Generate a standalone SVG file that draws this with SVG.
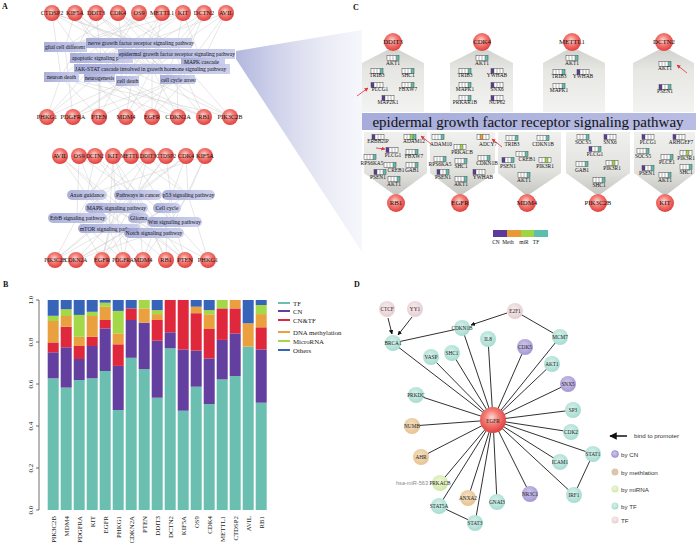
<svg xmlns="http://www.w3.org/2000/svg" xmlns:xlink="http://www.w3.org/1999/xlink" width="697" height="543" viewBox="0 0 697 543">
<defs>
<radialGradient id="rb" cx="0.45" cy="0.4" r="0.62"><stop offset="0" stop-color="#ffd8d2"/><stop offset="0.45" stop-color="#f27c74"/><stop offset="1" stop-color="#e03a3a"/></radialGradient>
<radialGradient id="gTe" cx="0.45" cy="0.4" r="0.6"><stop offset="0" stop-color="#d6f1eb"/><stop offset="1" stop-color="#a6dcd0"/></radialGradient>
<radialGradient id="gPu" cx="0.45" cy="0.4" r="0.6"><stop offset="0" stop-color="#d0c8ec"/><stop offset="1" stop-color="#a597d2"/></radialGradient>
<radialGradient id="gTa" cx="0.45" cy="0.4" r="0.6"><stop offset="0" stop-color="#f6e2c4"/><stop offset="1" stop-color="#e6c291"/></radialGradient>
<radialGradient id="gGr" cx="0.45" cy="0.4" r="0.6"><stop offset="0" stop-color="#eef7da"/><stop offset="1" stop-color="#d0e8a6"/></radialGradient>
<radialGradient id="gPi" cx="0.45" cy="0.4" r="0.6"><stop offset="0" stop-color="#f8ecee"/><stop offset="1" stop-color="#e6cdd0"/></radialGradient>
<linearGradient id="lav" x1="0" y1="0" x2="1" y2="0"><stop offset="0" stop-color="#9ea4d6"/><stop offset="1" stop-color="#c6c9e9"/></linearGradient>
<linearGradient id="fan" x1="0" y1="0" x2="1" y2="0"><stop offset="0" stop-color="#aeb3dc" stop-opacity="0.95"/><stop offset="1" stop-color="#e6e8f4" stop-opacity="0.35"/></linearGradient>
<linearGradient id="banner" x1="0" y1="0" x2="1" y2="0"><stop offset="0" stop-color="#a6acdb"/><stop offset="1" stop-color="#b9bde4"/></linearGradient>
<linearGradient id="houseT" x1="0" y1="0" x2="0" y2="1"><stop offset="0" stop-color="#cfcfcc"/><stop offset="0.35" stop-color="#e6e6e3"/><stop offset="1" stop-color="#f3f3f1"/></linearGradient>
<linearGradient id="houseB" x1="0" y1="0" x2="0" y2="1"><stop offset="0" stop-color="#f0f0ee"/><stop offset="0.6" stop-color="#e2e2df"/><stop offset="1" stop-color="#c4c4c1"/></linearGradient>
<marker id="ah" viewBox="0 0 10 10" refX="9" refY="5" markerWidth="5" markerHeight="5" orient="auto"><path d="M0 0L10 5L0 10z" fill="#111"/></marker>
<marker id="rah" viewBox="0 0 10 10" refX="9" refY="5" markerWidth="5" markerHeight="5" orient="auto"><path d="M0 0L10 5L0 10z" fill="#e0303a"/></marker>
<g id="grid"><path d="M3 0v5M6 0v5M9 0v5" stroke="#444" stroke-width="0.4"/><rect width="12" height="5" fill="none" stroke="#444" stroke-width="0.5"/></g>
<g id="kT"><rect width="12" height="5" fill="#fff"/><rect x="9" width="3" height="5" fill="#5cbfae"/><use xlink:href="#grid"/></g>
<g id="kC"><rect width="12" height="5" fill="#fff"/><rect width="3" height="5" fill="#5b3a9c"/><use xlink:href="#grid"/></g>
<g id="kCT"><rect width="12" height="5" fill="#fff"/><rect width="3" height="5" fill="#5b3a9c"/><rect x="9" width="3" height="5" fill="#5cbfae"/><use xlink:href="#grid"/></g>
<g id="kRT"><rect width="12" height="5" fill="#fff"/><rect x="6" width="3" height="5" fill="#9fd444"/><rect x="9" width="3" height="5" fill="#5cbfae"/><use xlink:href="#grid"/></g>
<g id="kR"><rect width="12" height="5" fill="#fff"/><rect x="6" width="3" height="5" fill="#9fd444"/><use xlink:href="#grid"/></g>
<g id="kM"><rect width="12" height="5" fill="#fff"/><rect x="3" width="3" height="5" fill="#e89a35"/><use xlink:href="#grid"/></g>
</defs>
<style>
.pl{font-family:"Liberation Serif","Times New Roman",serif;font-weight:bold;font-size:8px;fill:#111}
.gn circle{fill:url(#rb)}
.gt{font-family:"Liberation Serif","Times New Roman",serif;font-size:6.3px;fill:#111;text-anchor:middle}
.gs{font-size:5.5px}
.gc{font-size:6.8px}
.ea{stroke:#c9c9c9;stroke-width:0.45;fill:none}
.pb{fill:url(#lav);opacity:0.88}
.pt{font-family:"Liberation Serif","Times New Roman",serif;font-size:5.6px;fill:#111}
.pr{fill:url(#lav);opacity:0.85}
.ptc{font-family:"Liberation Serif","Times New Roman",serif;font-size:5.7px;fill:#111;text-anchor:middle}
.tf{fill:#6bbfb1}.cn{fill:#633f9f}.ct{fill:#e0283c}.me{fill:#eba040}.mi{fill:#a3d848}.ot{fill:#3564b8}
.ax{font-family:"Liberation Serif","Times New Roman",serif;font-size:7px;fill:#222}
.bl{font-family:"Liberation Serif","Times New Roman",serif;font-size:6.8px;fill:#222;text-anchor:end}
.lg{font-family:"Liberation Serif","Times New Roman",serif;font-size:6.8px;fill:#222}
.cl{font-family:"Liberation Serif","Times New Roman",serif;font-size:5.4px;fill:#111;text-anchor:middle}
.ra{stroke:#e0303a;stroke-width:0.8;marker-end:url(#rah)}
.de{stroke:#1a1a1a;stroke-width:0.9;fill:none}
.dn{font-family:"Liberation Serif","Times New Roman",serif;font-size:5.3px;fill:#222;text-anchor:middle}
.dl{font-family:"Liberation Sans",Arial,sans-serif;font-size:6.2px;fill:#333}
</style>
<rect width="697" height="543" fill="#fff"/>

<text class="pl" x="2" y="9">A</text>
<text class="pl" x="3" y="287">B</text>
<text class="pl" x="353" y="10">C</text>
<text class="pl" x="354" y="287">D</text>

<polygon points="236,51 362,30 362,252 236,59" fill="url(#fan)"/>

<g id="connectors-A1">
<path class="ea" d="M52 13L138 43M52 13L175 54M52 13L152 69M52 13L99 78M52 13L61 77
M75 13L65 47M75 13L101 57M75 13L127 81M75 13L177 80M75 13L152 69
M96 13L138 43M96 13L101 57M96 13L152 69M96 13L61 77M96 13L177 80
M118 13L175 54M118 13L202 62M118 13L127 81M118 13L177 80M118 13L65 47
M139 13L101 57M139 13L61 77M139 13L99 78M139 13L175 54
M162 13L138 43M162 13L152 69M162 13L127 81M162 13L65 47
M183 13L175 54M183 13L65 47M183 13L101 57M183 13L202 62M183 13L99 78
M204 13L175 54M204 13L152 69M204 13L99 78M204 13L177 80
M226 13L202 62M226 13L127 81M226 13L177 80M226 13L101 57
M47 117L61 77M47 117L101 57M47 117L152 69M47 117L138 43
M73 117L175 54M73 117L65 47M73 117L127 81M73 117L177 80
M99 117L101 57M99 117L61 77M99 117L99 78M99 117L177 80M99 117L138 43
M126 117L152 69M126 117L177 80M126 117L138 43M126 117L65 47
M152 117L175 54M152 117L202 62M152 117L152 69M152 117L65 47M152 117L101 57
M178 117L177 80M178 117L127 81M178 117L61 77M178 117L138 43
M204 117L138 43M204 117L175 54M204 117L99 78M204 117L127 81
M230 117L175 54M230 117L152 69M230 117L101 57M230 117L61 77"/>
</g>

<g id="pathways-A1">
<rect class="pb" x="44" y="42" width="43" height="10"/><text class="pt" x="45" y="49.3">glial cell different</text>
<rect class="pb" x="86" y="38" width="106" height="10"/><text class="pt" x="88" y="45.3">nerve growth factor receptor signaling pathway</text>
<rect class="pb" x="70" y="53" width="63" height="10"/><text class="pt" x="72" y="60.3">apoptotic signaling p</text>
<rect class="pb" x="118" y="49" width="117" height="10"/><text class="pt" x="119" y="56.3">epidermal growth factor receptor signaling pathway</text>
<rect class="pb" x="181" y="58" width="44" height="8" opacity="0.6"/><text class="pt" x="184" y="64">MAPK cascade</text>
<rect class="pb" x="74" y="64" width="156" height="10"/><text class="pt" x="75" y="71.3">JAK-STAT cascade involved in growth hormone signaling pathway</text>
<rect class="pb" x="44" y="72" width="35" height="10"/><text class="pt" x="47" y="79.3">neuron death</text>
<rect class="pb" x="84" y="74" width="31" height="8"/><text class="pt" x="85" y="80">neurogenesis</text>
<rect class="pb" x="116" y="76" width="23" height="10"/><text class="pt" x="117" y="82.5">cell death</text>
<rect class="pb" x="160" y="75" width="35" height="9"/><text class="pt" x="161" y="81.5">cell cycle arrest</text>
</g>

<g id="a1-CTDSP2" class="gn"><circle cx="52" cy="13" r="8"/><text class="gt" x="52" y="15.2">CTDSP2</text></g>
<g id="a1-KIF5A" class="gn"><circle cx="75" cy="13" r="8"/><text class="gt" x="75" y="15.2">KIF5A</text></g>
<g id="a1-DDIT3" class="gn"><circle cx="96" cy="13" r="8"/><text class="gt" x="96" y="15.2">DDIT3</text></g>
<g id="a1-CDK4" class="gn"><circle cx="118" cy="13" r="8"/><text class="gt" x="118" y="15.2">CDK4</text></g>
<g id="a1-OS9" class="gn"><circle cx="139" cy="13" r="8"/><text class="gt" x="139" y="15.2">OS9</text></g>
<g id="a1-METTL1" class="gn"><circle cx="162" cy="13" r="8"/><text class="gt" x="162" y="15.2">METTL1</text></g>
<g id="a1-KIT" class="gn"><circle cx="183" cy="13" r="8"/><text class="gt" x="183" y="15.2">KIT</text></g>
<g id="a1-DCTN2" class="gn"><circle cx="204" cy="13" r="8"/><text class="gt" x="204" y="15.2">DCTN2</text></g>
<g id="a1-AVIL" class="gn"><circle cx="226" cy="13" r="8"/><text class="gt" x="226" y="15.2">AVIL</text></g>
<g id="a1-PHKG1" class="gn"><circle cx="47" cy="117" r="8"/><text class="gt" x="47" y="119.2">PHKG1</text></g>
<g id="a1-PDGFRA" class="gn"><circle cx="73" cy="117" r="8"/><text class="gt" x="73" y="119.2">PDGFRA</text></g>
<g id="a1-PTEN" class="gn"><circle cx="99" cy="117" r="8"/><text class="gt" x="99" y="119.2">PTEN</text></g>
<g id="a1-MDM4" class="gn"><circle cx="126" cy="117" r="8"/><text class="gt" x="126" y="119.2">MDM4</text></g>
<g id="a1-EGFR" class="gn"><circle cx="152" cy="117" r="8"/><text class="gt" x="152" y="119.2">EGFR</text></g>
<g id="a1-CDKN2A" class="gn"><circle cx="178" cy="117" r="8"/><text class="gt" x="178" y="119.2">CDKN2A</text></g>
<g id="a1-RB1" class="gn"><circle cx="204" cy="117" r="8"/><text class="gt" x="204" y="119.2">RB1</text></g>
<g id="a1-PIK3C2B" class="gn"><circle cx="230" cy="117" r="8"/><text class="gt" x="230" y="119.2">PIK3C2B</text></g>

<g id="connectors-A2">
<path class="ea" d="M60 156L87 195M60 156L116 208M60 156L153 233
M79 156L137 195M79 156L109 229M79 156L77 218
M95 156L87 195M95 156L153 233M95 156L174 222
M113 156L137 195M113 156L116 208M113 156L77 218M113 156L138 218M113 156L109 229
M131 156L174 222M131 156L87 195M131 156L188 195
M148 156L188 195M148 156L116 208M148 156L137 195M148 156L77 218
M166 156L137 195M166 156L174 222M166 156L109 229
M186 156L188 195M186 156L167 208M186 156L137 195M186 156L116 208
M205 156L188 195M205 156L174 222M205 156L87 195
M55 260L77 218M55 260L116 208M55 260L109 229M55 260L137 195
M76 260L188 195M76 260L167 208M76 260L137 195M76 260L153 233
M102 260L77 218M102 260L116 208M102 260L138 218M102 260L109 229M102 260L137 195
M123 260L137 195M123 260L77 218M123 260L109 229M123 260L116 208
M143 260L188 195M143 260L137 195M143 260L153 233M143 260L87 195
M166 260L167 208M166 260L137 195M166 260L153 233M166 260L87 195
M185 260L137 195M185 260L174 222M185 260L153 233M185 260L116 208
M208 260L188 195M208 260L174 222M208 260L87 195"/>
</g>

<g id="pathways-A2">
<rect class="pr" x="67" y="190" width="40" height="10" rx="5"/><text class="ptc" x="87" y="197">Axon guidance</text>
<rect class="pr" x="114" y="190" width="48" height="10" rx="5"/><text class="ptc" x="138" y="197">Pathways in cancer</text>
<rect class="pr" x="162" y="190" width="53" height="10" rx="5"/><text class="ptc" x="188.5" y="197">p53 signaling pathway</text>
<rect class="pr" x="85" y="203" width="63" height="10" rx="5"/><text class="ptc" x="116.5" y="210">MAPK signaling pathway</text>
<rect class="pr" x="153" y="203" width="28" height="10" rx="5"/><text class="ptc" x="167" y="210">Cell cycle</text>
<rect class="pr" x="48" y="213" width="59" height="10" rx="5"/><text class="ptc" x="77.5" y="220">ErbB signaling pathway</text>
<rect class="pr" x="128" y="213" width="21" height="10" rx="5"/><text class="ptc" x="138.5" y="220">Glioma</text>
<rect class="pr" x="147" y="217" width="55" height="10" rx="5"/><text class="ptc" x="174.5" y="224">Wnt signaling pathway</text>
<rect class="pr" x="78" y="224" width="62" height="9" rx="4.5"/><text class="ptc" x="109" y="230.5">mTOR signaling pathway</text>
<rect class="pr" x="124" y="228" width="60" height="10" rx="5"/><text class="ptc" x="154" y="235">Notch signaling pathway</text>
</g>

<g id="a2-AVIL" class="gn"><circle cx="60" cy="156" r="8"/><text class="gt" x="60" y="158.2">AVIL</text></g>
<g id="a2-OS9" class="gn"><circle cx="79" cy="156" r="8"/><text class="gt" x="79" y="158.2">OS9</text></g>
<g id="a2-DCTN2" class="gn"><circle cx="95" cy="156" r="8"/><text class="gt gs" x="95" y="158">DCTN2</text></g>
<g id="a2-KIT" class="gn"><circle cx="113" cy="156" r="8"/><text class="gt" x="113" y="158.2">KIT</text></g>
<g id="a2-METTL1" class="gn"><circle cx="131" cy="156" r="8"/><text class="gt gs" x="131" y="158">METTL1</text></g>
<g id="a2-DDIT3" class="gn"><circle cx="148" cy="156" r="8"/><text class="gt gs" x="148" y="158">DDIT3</text></g>
<g id="a2-CTDSP2" class="gn"><circle cx="166" cy="156" r="8"/><text class="gt gs" x="166" y="158">CTDSP2</text></g>
<g id="a2-CDK4" class="gn"><circle cx="186" cy="156" r="8"/><text class="gt" x="186" y="158.2">CDK4</text></g>
<g id="a2-KIF5A" class="gn"><circle cx="205" cy="156" r="8"/><text class="gt" x="205" y="158.2">KIF5A</text></g>
<g id="a2-PIK3C2B" class="gn"><circle cx="55" cy="260" r="8"/><text class="gt gs" x="55" y="262">PIK3C2B</text></g>
<g id="a2-CDKN2A" class="gn"><circle cx="76" cy="260" r="8"/><text class="gt gs" x="76" y="262">CDKN2A</text></g>
<g id="a2-EGFR" class="gn"><circle cx="102" cy="260" r="8"/><text class="gt" x="102" y="262.2">EGFR</text></g>
<g id="a2-PDGFRA" class="gn"><circle cx="123" cy="260" r="8"/><text class="gt gs" x="123" y="262">PDGFRA</text></g>
<g id="a2-MDM4" class="gn"><circle cx="143" cy="260" r="8"/><text class="gt" x="143" y="262.2">MDM4</text></g>
<g id="a2-RB1" class="gn"><circle cx="166" cy="260" r="8"/><text class="gt" x="166" y="262.2">RB1</text></g>
<g id="a2-PTEN" class="gn"><circle cx="185" cy="260" r="8"/><text class="gt" x="185" y="262.2">PTEN</text></g>
<g id="a2-PHKG1" class="gn"><circle cx="208" cy="260" r="8"/><text class="gt" x="208" y="262.2">PHKG1</text></g>

<g id="panelB">
<path d="M39 300V510M36 300H39M36 342H39M36 384H39M36 426H39M36 468H39M36 510H39" stroke="#333" stroke-width="0.7" fill="none"/>
<text class="ax" transform="translate(33,300) rotate(-90)" text-anchor="middle">1.0</text>
<text class="ax" transform="translate(33,342) rotate(-90)" text-anchor="middle">0.8</text>
<text class="ax" transform="translate(33,384) rotate(-90)" text-anchor="middle">0.6</text>
<text class="ax" transform="translate(33,426) rotate(-90)" text-anchor="middle">0.4</text>
<text class="ax" transform="translate(33,468) rotate(-90)" text-anchor="middle">0.2</text>
<text class="ax" transform="translate(33,510) rotate(-90)" text-anchor="middle">0.0</text>

<g id="bar-PIK3C2B"><rect class="tf" x="47.7" y="378.3" width="11" height="131.7"/><rect class="cn" x="47.7" y="352.3" width="11" height="26"/><rect class="ct" x="47.7" y="342.4" width="11" height="9.9"/><rect class="me" x="47.7" y="321" width="11" height="21.4"/><rect class="mi" x="47.7" y="315.8" width="11" height="5.2"/><rect class="ot" x="47.7" y="300" width="11" height="15.8"/></g>
<g id="bar-MDM4"><rect class="tf" x="60.7" y="387.6" width="11" height="122.4"/><rect class="cn" x="60.7" y="347.3" width="11" height="40.3"/><rect class="ct" x="60.7" y="326.7" width="11" height="20.6"/><rect class="me" x="60.7" y="316" width="11" height="10.7"/><rect class="mi" x="60.7" y="309.2" width="11" height="6.8"/><rect class="ot" x="60.7" y="300" width="11" height="9.2"/></g>
<g id="bar-PDGFRA"><rect class="tf" x="73.7" y="380" width="11" height="130"/><rect class="cn" x="73.7" y="359" width="11" height="21"/><rect class="ct" x="73.7" y="346" width="11" height="13"/><rect class="me" x="73.7" y="336.8" width="11" height="9.2"/><rect class="mi" x="73.7" y="314.9" width="11" height="21.9"/><rect class="ot" x="73.7" y="300" width="11" height="14.9"/></g>
<g id="bar-KIT"><rect class="tf" x="86.7" y="378.3" width="11" height="131.7"/><rect class="cn" x="86.7" y="346" width="11" height="32.3"/><rect class="ct" x="86.7" y="336.8" width="11" height="9.2"/><rect class="me" x="86.7" y="316" width="11" height="20.8"/><rect class="mi" x="86.7" y="311.8" width="11" height="4.2"/><rect class="ot" x="86.7" y="300" width="11" height="11.8"/></g>
<g id="bar-EGFR"><rect class="tf" x="99.7" y="371" width="11" height="139"/><rect class="cn" x="99.7" y="328.4" width="11" height="42.6"/><rect class="ct" x="99.7" y="320" width="11" height="8.4"/><rect class="me" x="99.7" y="306.7" width="11" height="13.3"/><rect class="mi" x="99.7" y="302.7" width="11" height="4"/><rect class="ot" x="99.7" y="300" width="11" height="2.7"/></g>
<g id="bar-PHKG1"><rect class="tf" x="112.7" y="410" width="11" height="100"/><rect class="cn" x="112.7" y="365.9" width="11" height="44.1"/><rect class="ct" x="112.7" y="344.3" width="11" height="21.6"/><rect class="me" x="112.7" y="333.4" width="11" height="10.9"/><rect class="mi" x="112.7" y="310.9" width="11" height="22.5"/><rect class="ot" x="112.7" y="300" width="11" height="10.9"/></g>
<g id="bar-CDKN2A"><rect class="tf" x="125.7" y="357.8" width="11" height="152.2"/><rect class="cn" x="125.7" y="320" width="11" height="37.8"/><rect class="ct" x="125.7" y="308.4" width="11" height="11.6"/><rect class="ot" x="125.7" y="300" width="11" height="8.4"/></g>
<g id="bar-PTEN"><rect class="tf" x="138.7" y="369.1" width="11" height="140.9"/><rect class="cn" x="138.7" y="322.7" width="11" height="46.4"/><rect class="me" x="138.7" y="308.4" width="11" height="14.3"/><rect class="mi" x="138.7" y="300" width="11" height="8.4"/></g>
<g id="bar-DDIT3"><rect class="tf" x="151.7" y="397.7" width="11" height="112.3"/><rect class="cn" x="151.7" y="340.7" width="11" height="57"/><rect class="ct" x="151.7" y="320" width="11" height="20.7"/><rect class="me" x="151.7" y="314.1" width="11" height="5.9"/><rect class="mi" x="151.7" y="310.1" width="11" height="4"/><rect class="ot" x="151.7" y="300" width="11" height="10.1"/></g>
<g id="bar-DCTN2"><rect class="tf" x="164.7" y="348.3" width="11" height="161.7"/><rect class="cn" x="164.7" y="332.3" width="11" height="16"/><rect class="ct" x="164.7" y="300" width="11" height="32.3"/></g>
<g id="bar-KIF5A"><rect class="tf" x="177.7" y="410.7" width="11" height="99.3"/><rect class="cn" x="177.7" y="349.4" width="11" height="61.3"/><rect class="ct" x="177.7" y="300" width="11" height="49.4"/></g>
<g id="bar-OS9"><rect class="tf" x="190.7" y="386.7" width="11" height="123.3"/><rect class="cn" x="190.7" y="350.6" width="11" height="36.1"/><rect class="ct" x="190.7" y="313.2" width="11" height="37.4"/><rect class="me" x="190.7" y="306.7" width="11" height="6.5"/><rect class="ot" x="190.7" y="300" width="11" height="6.7"/></g>
<g id="bar-CDK4"><rect class="tf" x="203.7" y="404" width="11" height="106"/><rect class="cn" x="203.7" y="358.4" width="11" height="45.6"/><rect class="ct" x="203.7" y="329" width="11" height="29.4"/><rect class="me" x="203.7" y="314.3" width="11" height="14.7"/><rect class="mi" x="203.7" y="310.1" width="11" height="4.2"/><rect class="ot" x="203.7" y="300" width="11" height="10.1"/></g>
<g id="bar-METTL1"><rect class="tf" x="216.7" y="379.4" width="11" height="130.6"/><rect class="cn" x="216.7" y="339.9" width="11" height="39.5"/><rect class="ct" x="216.7" y="308.4" width="11" height="31.5"/><rect class="mi" x="216.7" y="300" width="11" height="8.4"/></g>
<g id="bar-CTDSP2"><rect class="tf" x="229.7" y="376" width="11" height="134"/><rect class="cn" x="229.7" y="333.4" width="11" height="42.6"/><rect class="ct" x="229.7" y="308.4" width="11" height="25"/><rect class="me" x="229.7" y="300" width="11" height="8.4"/></g>
<g id="bar-AVIL"><rect class="tf" x="242.7" y="346.6" width="11" height="163.4"/><rect class="me" x="242.7" y="323.3" width="11" height="23.3"/><rect class="ot" x="242.7" y="300" width="11" height="23.3"/></g>
<g id="bar-RB1"><rect class="tf" x="255.7" y="402.7" width="11" height="107.3"/><rect class="cn" x="255.7" y="349.4" width="11" height="53.3"/><rect class="ct" x="255.7" y="327.3" width="11" height="22.1"/><rect class="me" x="255.7" y="314.1" width="11" height="13.2"/><rect class="mi" x="255.7" y="305" width="11" height="9.1"/><rect class="ot" x="255.7" y="300" width="11" height="5"/></g>

<text class="bl" transform="translate(55.7,516) rotate(-90)">PIK3C2B</text>
<text class="bl" transform="translate(68.7,516) rotate(-90)">MDM4</text>
<text class="bl" transform="translate(81.7,516) rotate(-90)">PDGFRA</text>
<text class="bl" transform="translate(94.7,516) rotate(-90)">KIT</text>
<text class="bl" transform="translate(107.7,516) rotate(-90)">EGFR</text>
<text class="bl" transform="translate(120.7,516) rotate(-90)">PHKG1</text>
<text class="bl" transform="translate(133.7,516) rotate(-90)">CDKN2A</text>
<text class="bl" transform="translate(146.7,516) rotate(-90)">PTEN</text>
<text class="bl" transform="translate(159.7,516) rotate(-90)">DDIT3</text>
<text class="bl" transform="translate(172.7,516) rotate(-90)">DCTN2</text>
<text class="bl" transform="translate(185.7,516) rotate(-90)">KIF5A</text>
<text class="bl" transform="translate(198.7,516) rotate(-90)">OS9</text>
<text class="bl" transform="translate(211.7,516) rotate(-90)">CDK4</text>
<text class="bl" transform="translate(224.7,516) rotate(-90)">METTL1</text>
<text class="bl" transform="translate(237.7,516) rotate(-90)">CTDSP2</text>
<text class="bl" transform="translate(250.7,516) rotate(-90)">AVIL</text>
<text class="bl" transform="translate(263.7,516) rotate(-90)">RB1</text>

<g id="legendB">
<rect class="tf" x="278" y="302" width="12" height="2"/><text class="lg" x="293" y="305.5">TF</text>
<rect class="cn" x="278" y="310" width="12" height="2"/><text class="lg" x="293" y="313.5">CN</text>
<rect class="ct" x="278" y="319" width="12" height="2"/><text class="lg" x="293" y="322.5">CN&amp;TF</text>
<rect class="me" x="278" y="331" width="12" height="2"/><text class="lg" x="293" y="334.5">DNA methylation</text>
<rect class="mi" x="278" y="340" width="12" height="2"/><text class="lg" x="293" y="343.5">MicroRNA</text>
<rect class="ot" x="278" y="349" width="12" height="2"/><text class="lg" x="293" y="352.5">Others</text>
</g>
</g>

<g id="panelC">
<polygon id="houseDDIT3" points="362,112 362,63 393,47 424,63 424,112" fill="url(#houseT)"/>
<polygon id="houseCDK4" points="450,112 450,63 482,47 513,63 513,112" fill="url(#houseT)"/>
<polygon id="houseMETTL1" points="543,112 543,63 572,47 605,63 605,112" fill="url(#houseT)"/>
<polygon id="houseDCTN2" points="633,112 633,63 664,47 694,63 694,112" fill="url(#houseT)"/>
<polygon id="houseRB1" points="364,132 427,132 427,173 396,196 364,173" fill="url(#houseB)"/>
<polygon id="houseEGFR" points="430,132 495,132 495,173 460,196 430,173" fill="url(#houseB)"/>
<polygon id="houseMDM4" points="498,132 561,132 561,173 527,196 498,173" fill="url(#houseB)"/>
<polygon id="housePIK3C2B" points="566,132 630,132 630,173 598,196 566,173" fill="url(#houseB)"/>
<polygon id="houseKIT" points="634,132 695,132 695,173 665,196 634,173" fill="url(#houseB)"/>

<g id="c-banner"><rect x="362" y="113" width="334" height="17" fill="url(#banner)"/><text x="528" y="126.5" text-anchor="middle" font-family="'Liberation Serif','Times New Roman',serif" font-size="15" fill="#111">epidermal growth factor receptor signaling pathway</text></g>

<g id="c-DDIT3" class="gn"><circle cx="393" cy="42" r="9"/><text class="gt gc" x="393" y="44.4">DDIT3</text></g>
<g id="c-CDK4" class="gn"><circle cx="482" cy="42" r="9"/><text class="gt gc" x="482" y="44.4">CDK4</text></g>
<g id="c-METTL1" class="gn"><circle cx="572" cy="42" r="9"/><text class="gt gc" x="572" y="44.4">METTL1</text></g>
<g id="c-DCTN2" class="gn"><circle cx="664" cy="42" r="9"/><text class="gt gc" x="664" y="44.4">DCTN2</text></g>
<g id="c-RB1" class="gn"><circle cx="396" cy="203" r="9"/><text class="gt gc" x="396" y="205.4">RB1</text></g>
<g id="c-EGFR" class="gn"><circle cx="460" cy="203" r="9"/><text class="gt gc" x="460" y="205.4">EGFR</text></g>
<g id="c-MDM4" class="gn"><circle cx="527" cy="203" r="9"/><text class="gt gc" x="527" y="205.4">MDM4</text></g>
<g id="c-PIK3C2B" class="gn"><circle cx="598" cy="203" r="9"/><text class="gt gc" x="598" y="205.4">PIK3C2B</text></g>
<g id="c-KIT" class="gn"><circle cx="665" cy="203" r="9"/><text class="gt gc" x="665" y="205.4">KIT</text></g>

<g id="c-items">
<use xlink:href="#kT" x="387" y="55.5"/><text class="cl" x="393" y="64.5">AKT1</text>
<use xlink:href="#kT" x="371" y="68.5"/><text class="cl" x="377" y="77">TRIB3</text>
<use xlink:href="#kT" x="402" y="68.5"/><text class="cl" x="408" y="77">SHC1</text>
<use xlink:href="#kC" x="371" y="82.5"/><text class="cl" x="380" y="91">PLCG1</text>
<use xlink:href="#kT" x="402" y="82.5"/><text class="cl" x="408" y="91">FBXW7</text>
<use xlink:href="#kC" x="382" y="95.5"/><text class="cl" x="388" y="104">MAP2K1</text>
<use xlink:href="#kT" x="476" y="55.5"/><text class="cl" x="482" y="64.5">AKT1</text>
<use xlink:href="#kT" x="459" y="68.5"/><text class="cl" x="465" y="77">TRIB3</text>
<use xlink:href="#kC" x="491" y="68.5"/><text class="cl" x="497" y="77">YWHAB</text>
<use xlink:href="#kT" x="459" y="82.5"/><text class="cl" x="465" y="91">MAPK1</text>
<use xlink:href="#kC" x="491" y="82.5"/><text class="cl" x="497" y="91">SNX6</text>
<use xlink:href="#kT" x="459" y="95.5"/><text class="cl" x="465" y="104">PRKAR1B</text>
<use xlink:href="#kC" x="491" y="95.5"/><text class="cl" x="497" y="104">NUP62</text>
<use xlink:href="#kT" x="566" y="55.5"/><text class="cl" x="572" y="64.5">AKT1</text>
<use xlink:href="#kT" x="553" y="69.5"/><text class="cl" x="559" y="78">TRIB3</text>
<use xlink:href="#kC" x="577" y="69.5"/><text class="cl" x="583" y="78">YWHAB</text>
<use xlink:href="#kT" x="553" y="83.5"/><text class="cl" x="559" y="92">MAPK1</text>
<use xlink:href="#kT" x="659" y="61.5"/><text class="cl" x="665" y="70">AKT1</text>
<use xlink:href="#kCT" x="659" y="84.5"/><text class="cl" x="665" y="93">PSEN1</text>
<use xlink:href="#kC" x="372" y="134.5"/><text class="cl" x="378" y="143">ERBB2IP</text>
<use xlink:href="#kRT" x="404" y="134.5"/><text class="cl" x="414" y="143">ADAM12</text>
<use xlink:href="#kC" x="386" y="147.5"/><text class="cl" x="393" y="157">PLCG1</text>
<use xlink:href="#kT" x="406" y="149.5"/><text class="cl" x="414" y="158">FBXW7</text>
<use xlink:href="#kT" x="364" y="154.5"/><text class="cl" x="372" y="164.5">RPS6KA5</text>
<use xlink:href="#kT" x="384" y="162.5"/><text class="cl" x="396" y="172">CREB1</text>
<use xlink:href="#kCT" x="374" y="169.5"/><text class="cl" x="378" y="179">PSEN1</text>
<use xlink:href="#kT" x="406" y="162.5"/><text class="cl" x="412" y="172">GAB1</text>
<use xlink:href="#kT" x="388" y="176.5"/><text class="cl" x="394" y="186">AKT1</text>
<use xlink:href="#kT" x="432" y="134.5"/><text class="cl" x="441" y="146">ADAM10</text>
<use xlink:href="#kM" x="477" y="134.5"/><text class="cl" x="488" y="146">ADCY7</text>
<use xlink:href="#kR" x="454" y="144.5"/><text class="cl" x="462" y="154">PRKACB</text>
<use xlink:href="#kT" x="434" y="156.5"/><text class="cl" x="440" y="166">RPS6KA5</text>
<use xlink:href="#kT" x="455" y="158.5"/><text class="cl" x="461" y="168">SHC1</text>
<use xlink:href="#kT" x="478" y="155.5"/><text class="cl" x="487" y="165">CDKN1B</text>
<use xlink:href="#kCT" x="437" y="169.5"/><text class="cl" x="443" y="179">PSEN1</text>
<use xlink:href="#kC" x="473" y="169.5"/><text class="cl" x="483" y="179">YWHAB</text>
<use xlink:href="#kT" x="455" y="176.5"/><text class="cl" x="461" y="186">AKT1</text>
<use xlink:href="#kT" x="506" y="135.5"/><text class="cl" x="512" y="146">TRIB3</text>
<use xlink:href="#kT" x="537" y="135.5"/><text class="cl" x="543" y="146">CDKN1B</text>
<use xlink:href="#kT" x="516" y="151.5"/><text class="cl" x="527" y="161">CREB1</text>
<use xlink:href="#kCT" x="502" y="157.5"/><text class="cl" x="508" y="168">PSEN1</text>
<use xlink:href="#kR" x="539" y="157.5"/><text class="cl" x="545" y="168">PIK3R1</text>
<use xlink:href="#kT" x="518" y="172.5"/><text class="cl" x="524" y="182">AKT1</text>
<use xlink:href="#kT" x="577" y="134.5"/><text class="cl" x="583" y="144">SOCS5</text>
<use xlink:href="#kC" x="604" y="134.5"/><text class="cl" x="610" y="144">SNX6</text>
<use xlink:href="#kCT" x="589" y="146.5"/><text class="cl" x="595" y="156">PLCG1</text>
<use xlink:href="#kT" x="576" y="161.5"/><text class="cl" x="582" y="172">GAB1</text>
<use xlink:href="#kR" x="606" y="160.5"/><text class="cl" x="612" y="170">PIK3R1</text>
<use xlink:href="#kT" x="593" y="177.5"/><text class="cl" x="599" y="187">SHC1</text>
<use xlink:href="#kC" x="642" y="134.5"/><text class="cl" x="648" y="144">PLCG1</text>
<use xlink:href="#kC" x="673" y="134.5"/><text class="cl" x="681" y="144">ARHGEF7</text>
<use xlink:href="#kT" x="637" y="148.5"/><text class="cl" x="643" y="158">SOCS5</text>
<use xlink:href="#kT" x="661" y="154.5"/><text class="cl" x="667" y="164">PLCE1</text>
<use xlink:href="#kR" x="680" y="150.5"/><text class="cl" x="686" y="160">PIK3R1</text>
<use xlink:href="#kCT" x="642" y="165.5"/><text class="cl" x="647" y="175">PSEN1</text>
<use xlink:href="#kT" x="680" y="164.5"/><text class="cl" x="686" y="174">SHC1</text>
<use xlink:href="#kT" x="659" y="172.5"/><text class="cl" x="665" y="182">AKT1</text>
</g>

<g id="c-arrows">
<line class="ra" x1="357" y1="96" x2="368" y2="88"/>
<line class="ra" x1="687" y1="73" x2="677" y2="65"/>
<line class="ra" x1="376" y1="148" x2="385" y2="149"/>
<line class="ra" x1="431" y1="144" x2="421" y2="136"/>
<line class="ra" x1="502" y1="147" x2="492" y2="139"/>
</g>

<g id="c-legend">
<rect x="493" y="230" width="14" height="7" fill="#5b3a9c"/>
<rect x="507" y="230" width="14" height="7" fill="#e89a35"/>
<rect x="521" y="230" width="13" height="7" fill="#9fd444"/>
<rect x="534" y="230" width="14" height="7" fill="#5cbfae"/>
<text class="cl" x="496" y="244">CN</text>
<text class="cl" x="508" y="244">Meth</text>
<text class="cl" x="524" y="244">miR</text>
<text class="cl" x="536" y="244">TF</text>
</g>
</g>

<g id="connectors-D">
<path class="de" d="M493 420L393 343M493 420L462 328M493 420L488 339M493 420L431 357M493 420L452 353M493 420L525 347M493 420L560 337M493 420L552 364M493 420L568 384M493 420L416 395M493 420L573 410M493 420L412 426M493 420L571 432M493 420L593 454M493 420L560 462M493 420L421 457M493 420L440 483M493 420L468 498M493 420L497 502M493 420L530 494M493 420L574 495M493 420L439 506M493 420L475 523
M393 343L462 328M515 311L560 337M593 454L574 495M439 506L475 523"/>
<line class="de" x1="388" y1="318" x2="392" y2="334" stroke-width="1.3" marker-end="url(#ah)"/>
<line class="de" x1="412" y1="317" x2="398" y2="335" stroke-width="1.3" marker-end="url(#ah)"/>
<line class="de" x1="507" y1="313" x2="471" y2="325" stroke-width="1.6" marker-end="url(#ah)"/>
</g>

<g id="d-CTCF"><circle cx="387" cy="309" r="8" fill="url(#gPi)"/><text class="dn" x="387" y="311">CTCF</text></g>
<g id="d-YY1"><circle cx="415" cy="309" r="8" fill="url(#gPi)"/><text class="dn" x="415" y="311">YY1</text></g>
<g id="d-E2F1"><circle cx="515" cy="311" r="8" fill="url(#gPi)"/><text class="dn" x="515" y="313">E2F1</text></g>
<g id="d-BRCA1"><circle cx="393" cy="343" r="8" fill="url(#gTe)"/><text class="dn" x="393" y="345">BRCA1</text></g>
<g id="d-CDKN1B"><circle cx="462" cy="328" r="8" fill="url(#gTe)"/><text class="dn" x="462" y="330">CDKN1B</text></g>
<g id="d-IL8"><circle cx="488" cy="339" r="8" fill="url(#gTe)"/><text class="dn" x="488" y="341">IL8</text></g>
<g id="d-VASP"><circle cx="431" cy="357" r="8" fill="url(#gTe)"/><text class="dn" x="431" y="359">VASP</text></g>
<g id="d-SHC1"><circle cx="452" cy="353" r="8" fill="url(#gTe)"/><text class="dn" x="452" y="355">SHC1</text></g>
<g id="d-CDK5"><circle cx="525" cy="347" r="8" fill="url(#gPu)"/><text class="dn" x="525" y="349">CDK5</text></g>
<g id="d-MCM7"><circle cx="560" cy="337" r="8" fill="url(#gTe)"/><text class="dn" x="560" y="339">MCM7</text></g>
<g id="d-AKT1"><circle cx="552" cy="364" r="8" fill="url(#gTe)"/><text class="dn" x="552" y="366">AKT1</text></g>
<g id="d-SNX5"><circle cx="568" cy="384" r="8" fill="url(#gPu)"/><text class="dn" x="568" y="386">SNX5</text></g>
<g id="d-PRKDC"><circle cx="416" cy="395" r="8" fill="url(#gTe)"/><text class="dn" x="416" y="397">PRKDC</text></g>
<g id="d-SP3"><circle cx="573" cy="410" r="8" fill="url(#gTe)"/><text class="dn" x="573" y="412">SP3</text></g>
<g id="d-NUMB"><circle cx="412" cy="426" r="8" fill="url(#gTa)"/><text class="dn" x="412" y="428">NUMB</text></g>
<g id="d-CDK2"><circle cx="571" cy="432" r="8" fill="url(#gTe)"/><text class="dn" x="571" y="434">CDK2</text></g>
<g id="d-STAT1"><circle cx="593" cy="454" r="8" fill="url(#gTe)"/><text class="dn" x="593" y="456">STAT1</text></g>
<g id="d-ICAM1"><circle cx="560" cy="462" r="8" fill="url(#gTe)"/><text class="dn" x="560" y="464">ICAM1</text></g>
<g id="d-AHR"><circle cx="421" cy="457" r="8" fill="url(#gTa)"/><text class="dn" x="421" y="459">AHR</text></g>
<g id="d-PRKACB"><circle cx="440" cy="483" r="8" fill="url(#gGr)"/><text class="dn" x="440" y="485">PRKACB</text></g>
<text x="428" y="485" text-anchor="end" font-family="'Liberation Sans',Arial,sans-serif" font-size="5.6" fill="#8a8a8a">hsa-miR-563</text>
<g id="d-ANXA2"><circle cx="468" cy="498" r="8" fill="url(#gTa)"/><text class="dn" x="468" y="500">ANXA2</text></g>
<g id="d-GNAI3"><circle cx="497" cy="502" r="8" fill="url(#gTe)"/><text class="dn" x="497" y="504">GNAI3</text></g>
<g id="d-NR3C1"><circle cx="530" cy="494" r="8" fill="url(#gPu)"/><text class="dn" x="530" y="496">NR3C1</text></g>
<g id="d-IRF1"><circle cx="574" cy="495" r="8" fill="url(#gTe)"/><text class="dn" x="574" y="497">IRF1</text></g>
<g id="d-STAT5A"><circle cx="439" cy="506" r="8" fill="url(#gTe)"/><text class="dn" x="439" y="508">STAT5A</text></g>
<g id="d-STAT3"><circle cx="475" cy="523" r="8" fill="url(#gTe)"/><text class="dn" x="475" y="525">STAT3</text></g>
<g id="d-EGFR"><circle cx="493" cy="420" r="13" fill="url(#rb)"/><text class="dn" x="493" y="422.5" font-size="7">EGFR</text></g>

<g id="legendD">
<line x1="627" y1="436" x2="610" y2="436" stroke="#111" stroke-width="1.5" marker-end="url(#ah)"/>
<text class="dl" x="634" y="438">bind to promoter</text>
<circle cx="615" cy="454" r="3.5" fill="url(#gPu)" stroke="#8a7cc4" stroke-width="0.5"/><text class="dl" x="621" y="456.5">by CN</text>
<circle cx="615" cy="472" r="3.5" fill="#d9c6ad"/><text class="dl" x="621" y="474.5">by methlation</text>
<circle cx="615" cy="489" r="3.5" fill="url(#gGr)"/><text class="dl" x="621" y="491.5">by miRNA</text>
<circle cx="615" cy="506" r="3.5" fill="url(#gTe)"/><text class="dl" x="621" y="508.5">by TF</text>
<circle cx="615" cy="520" r="3.5" fill="url(#gPi)"/><text class="dl" x="621" y="522.5">TF</text>
</g>
</svg>
